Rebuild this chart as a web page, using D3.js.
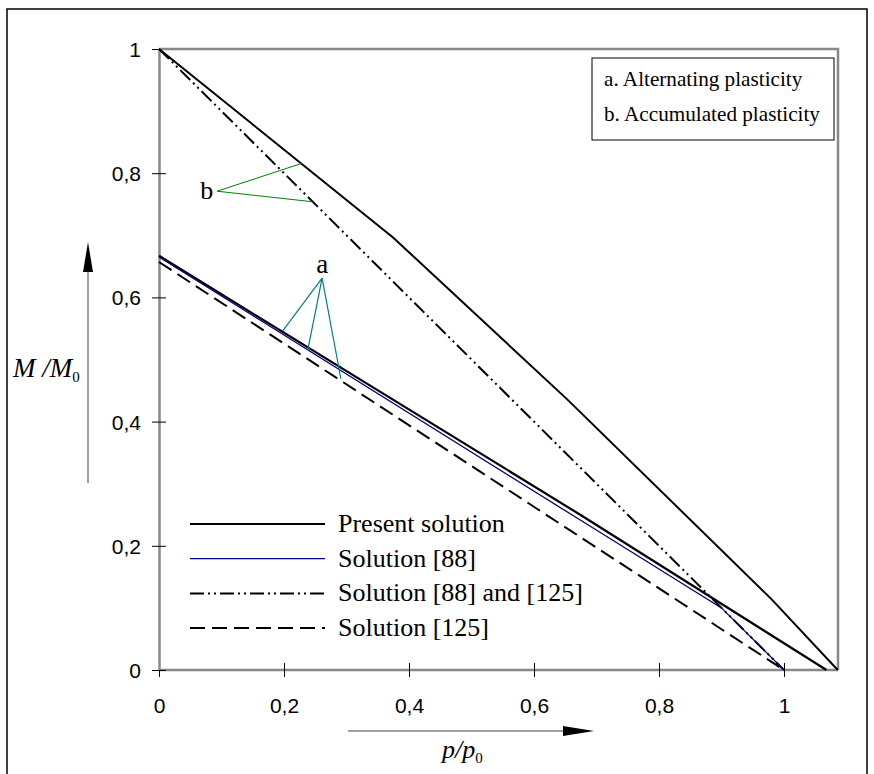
<!DOCTYPE html>
<html>
<head>
<meta charset="utf-8">
<script src="https://cdn.jsdelivr.net/npm/d3@7"></script>
<style>
  body { margin: 0; background: #fff; }
  svg { display: block; }
  .tick text { font-family: "Liberation Sans", Arial, sans-serif; font-size: 21px; fill: #000; }
  .serif { font-family: "Liberation Serif", "Times New Roman", serif; fill: #000; }
</style>
</head>
<body>
<svg width="874" height="774"></svg>
<script>
// axis ticks
var pTicks = [0, 0.2, 0.4, 0.6, 0.8, 1]
var mTicks = [0, 0.2, 0.4, 0.6, 0.8, 1]

// curves (p/p0 , M/M0)
var presentUpperP = [0, 0.374, 0.654, 0.981, 1.086]
var presentUpperM = [1, 0.697, 0.435, 0.113, 0]
var presentLowerP = [0, 0.674, 1.068]
var presentLowerM = [0.667, 0.25, 0]
var sol88P = [0, 0.674, 0.9, 1]
var sol88M = [0.665, 0.2415, 0.1, 0]
var sol88and125P = [0, 0.9, 1]
var sol88and125M = [1, 0.1, 0]
var sol125P = [0, 1]
var sol125M = [0.657, 0]

// annotation pointers: [p, M]
var bApex = [0.093, 0.771]
var bEnds = [[0.229, 0.816], [0.246, 0.754]]
var aApex = [0.261, 0.631]
var aEnds = [[0.198, 0.546], [0.238, 0.515], [0.291, 0.469]]

var legendNames = ["Present solution", "Solution [88]", "Solution [88] and [125]", "Solution [125]"]
var boxNames = ["a. Alternating plasticity", "b. Accumulated plasticity"]

var svg = d3.select("svg")

var x = d3.scaleLinear().domain([0, 1.0864]).range([159, 838])
var y = d3.scaleLinear().domain([0, 1]).range([670, 49])

function fmt(d){ return String(d).replace(".", ",") }
function zip(ps, ms){ return ps.map(function(p, i){ return [p, ms[i]] }) }

// outer frame
svg.append("rect")
	.attr("x", 7).attr("y", 9).attr("width", 860).attr("height", 780)
	.attr("fill", "none").attr("stroke", "#000").attr("stroke-width", 1.5)

// plot frame (top/right)
svg.append("path")
	.attr("d", "M" + x(0) + "," + y(1) + "H" + x(1.0864) + "V" + y(0))
	.attr("fill", "none").attr("stroke", "#888").attr("stroke-width", 2.5)

// axes
var xAxis = svg.append("g")
	.attr("transform", "translate(0," + y(0) + ")")
	.call(d3.axisBottom(x).tickValues(pTicks).tickFormat(fmt).tickSizeOuter(0))
xAxis.select(".domain").attr("stroke", "#888").attr("stroke-width", 2.5)
	.attr("d", "M" + x(0) + ",0H" + x(1.0864))
xAxis.selectAll(".tick line").attr("y1", -7).attr("y2", 7).attr("stroke", "#000")
xAxis.selectAll(".tick text").attr("y", 43).attr("dy", 0)

var yAxis = svg.append("g")
	.attr("transform", "translate(" + x(0) + ",0)")
	.call(d3.axisLeft(y).tickValues(mTicks).tickFormat(fmt).tickSizeOuter(0))
yAxis.select(".domain").attr("stroke", "#888").attr("stroke-width", 2.5)
yAxis.selectAll(".tick line").attr("x1", -7).attr("x2", function(d){ return d === 1 ? 0 : 7 }).attr("stroke", "#000")
yAxis.selectAll(".tick text").attr("x", -18).attr("dy", "0.36em")

// curves
var line = d3.line().x(function(d){ return x(d[0]) }).y(function(d){ return y(d[1]) })

var curves = [
	{ pts: zip(sol125P, sol125M), color: "#000", width: 2, dash: "15,7" },
	{ pts: zip(sol88and125P, sol88and125M), color: "#000", width: 2, dash: "14,4,2,4,2,4" },
	{ pts: zip(presentUpperP, presentUpperM), color: "#000", width: 2, dash: null },
	{ pts: zip(presentLowerP, presentLowerM), color: "#000", width: 2.2, dash: null },
	{ pts: zip(sol88P, sol88M), color: "#000080", width: 1.3, dash: null }
]
svg.selectAll(".curve")
		.data(curves)
	.enter().append("path")
		.attr("class", "curve")
		.attr("d", function(d){ return line(d.pts) })
		.attr("fill", "none")
		.attr("stroke", function(d){ return d.color })
		.attr("stroke-width", function(d){ return d.width })
		.attr("stroke-dasharray", function(d){ return d.dash })

// pointers
bEnds.forEach(function(e){
	svg.append("line")
		.attr("x1", x(bApex[0])).attr("y1", y(bApex[1]))
		.attr("x2", x(e[0])).attr("y2", y(e[1]))
		.attr("stroke", "#008000").attr("stroke-width", 1)
})
svg.append("text").attr("class", "serif")
	.attr("x", x(bApex[0]) - 4).attr("y", y(bApex[1]) + 8)
	.attr("text-anchor", "end").attr("font-size", 26).text("b")

aEnds.forEach(function(e){
	svg.append("line")
		.attr("x1", x(aApex[0])).attr("y1", y(aApex[1]))
		.attr("x2", x(e[0])).attr("y2", y(e[1]))
		.attr("stroke", "#008080").attr("stroke-width", 1.2)
})
svg.append("text").attr("class", "serif")
	.attr("x", x(aApex[0])).attr("y", y(aApex[1]) - 5)
	.attr("text-anchor", "middle").attr("font-size", 27).text("a")

// top-right box
svg.append("rect")
	.attr("x", 592).attr("y", 58).attr("width", 242).attr("height", 82)
	.attr("fill", "#fff").attr("stroke", "#000").attr("stroke-width", 1)
svg.selectAll(".boxtext")
		.data(boxNames)
	.enter().append("text")
		.attr("class", "serif boxtext")
		.attr("x", 604)
		.attr("y", function(d, i){ return 86 + i * 35 })
		.attr("font-size", 21.2)
		.text(function(d){ return d })

// legend
var legend = svg.selectAll(".legend")
		.data(curves.slice(2, 3).concat([curves[4], curves[1], curves[0]]))
	.enter().append("g")
		.attr("class", "legend")
		.attr("transform", function(d, i){ return "translate(190," + (524 + i * 34.7) + ")" })
legend.append("line")
	.attr("x1", 0).attr("x2", 135)
	.attr("stroke", function(d){ return d.color })
	.attr("stroke-width", function(d){ return d.width })
	.attr("stroke-dasharray", function(d){ return d.dash })
legend.append("text")
	.attr("class", "serif")
	.attr("x", 148).attr("y", 8)
	.attr("font-size", 26)
	.text(function(d, i){ return legendNames[i] })

// axis arrows and titles
svg.append("line").attr("x1", 88).attr("x2", 88).attr("y1", 483).attr("y2", 268)
	.attr("stroke", "#444").attr("stroke-width", 1)
svg.append("path").attr("d", "M88,242L83,272L93,272Z").attr("fill", "#000")

svg.append("line").attr("x1", 348).attr("x2", 566).attr("y1", 731).attr("y2", 731)
	.attr("stroke", "#444").attr("stroke-width", 1)
svg.append("path").attr("d", "M594,731L563,726L563,736Z").attr("fill", "#000")

var yt = svg.append("text").attr("class", "serif")
	.attr("x", 13).attr("y", 377).attr("font-size", 27).attr("font-style", "italic")
yt.append("tspan").text("M /M")
yt.append("tspan").attr("font-size", 15).attr("font-style", "normal").attr("dy", 5).text("0")

var xt = svg.append("text").attr("class", "serif")
	.attr("x", 442).attr("y", 758).attr("font-size", 26).attr("font-style", "italic")
xt.append("tspan").text("p/p")
xt.append("tspan").attr("font-size", 15).attr("font-style", "normal").attr("dy", 5).text("0")
</script>
</body>
</html>
